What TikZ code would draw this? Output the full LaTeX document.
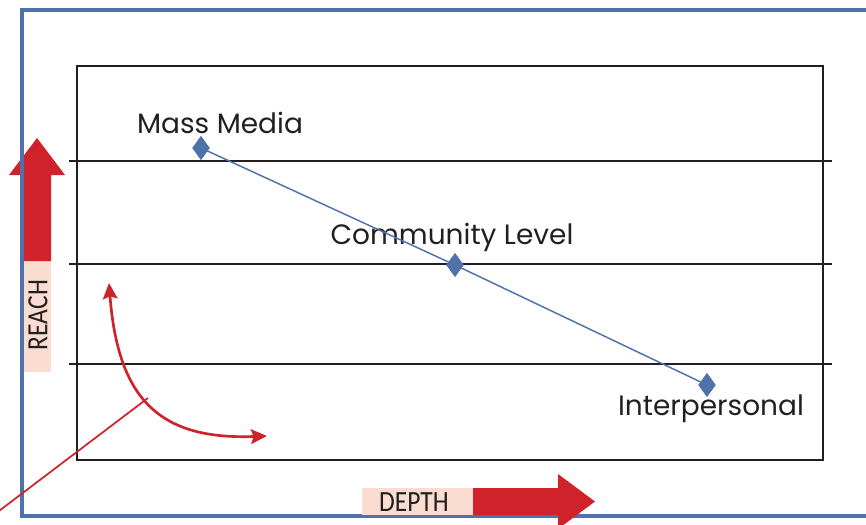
\documentclass[tikz,border=0pt]{standalone}
\usepackage{fontspec}
\setmainfont{Poppins}
\newfontfamily\axisfont[FakeStretch=0.87]{Carlito}
\usetikzlibrary{shapes.geometric,arrows.meta}
\definecolor{frameblue}{RGB}{79,114,170}
\definecolor{arrowred}{RGB}{208,34,42}
\definecolor{labelpink}{RGB}{250,221,208}
\definecolor{gridblack}{RGB}{35,31,32}
\begin{document}
\begin{tikzpicture}[x=0.75pt,y=-0.75pt,
  gridline/.style={draw=gridblack,line width=1.6pt},
  marker/.style={diamond,fill=frameblue,draw=none,inner sep=0pt,minimum width=13pt,minimum height=18pt},
  lbl/.style={font=\fontsize{21}{21}\selectfont,text=gridblack,anchor=base,inner sep=0pt},
  axislbl/.style={font=\axisfont\fontsize{22}{22}\selectfont,text=gridblack,inner sep=0pt},
  pinkbox/.style={fill=labelpink,draw=none},
  redshape/.style={fill=arrowred,draw=none},
  curvearrow/.style={draw=arrowred,line width=2pt,{Stealth[length=12pt,width=11pt,inset=2pt]}-{Stealth[length=12pt,width=11pt,inset=2pt]}},
  pointer/.style={draw=arrowred,line width=1.3pt},
  connector/.style={draw=frameblue,line width=1.1pt}]
\useasboundingbox (0,0) rectangle (866,524);
\clip (0,0) rectangle (866,524);
% REACH arrow
\fill[pinkbox] (23,261) rectangle (51,372);
\fill[redshape] (23,261) -- (23,175) -- (9,175) -- (37,138) -- (65,175) -- (51,175) -- (51,261) -- cycle;
\node[axislbl,rotate=90] (reach) at (38,315) {REACH};
% blue frame
\draw[frameblue,line width=2.4pt] (870,10) -- (22,10) -- (22,516) -- (870,516);
% DEPTH arrow
\fill[pinkbox] (362,488) rectangle (473,515);
\fill[redshape] (473,488) -- (558,488) -- (558,474) -- (595,501.5) -- (558,529) -- (558,515) -- (473,515) -- cycle;
\node[axislbl] (depth) at (414,502) {DEPTH};
% inner rectangle and grid lines
\draw[gridline] (77,66) rectangle (823,460);
\draw[gridline] (69,161) -- (832,161);
\draw[gridline] (69,264) -- (832,264);
\draw[gridline] (69,364) -- (832,364);
% labels
\node[lbl] (massLbl) at (220,133) {Mass Media};
\node[lbl] (commLbl) at (452,244) {Community Level};
\node[lbl] (interLbl) at (711,415) {Interpersonal};
% markers and connector
\node[marker] (mass) at (201,148) {};
\node[marker] (comm) at (455,265) {};
\node[marker] (inter) at (707,385) {};
\draw[connector] (mass.center) -- (comm.center) -- (inter.center);
\node[marker] at (201,148) {};
\node[marker] at (455,265) {};
\node[marker] at (707,385) {};
% curved arrow and pointer
\coordinate (ctop) at (109,283);
\coordinate (cend) at (267,436);
\coordinate (cmid) at (148,398);
\coordinate (pend) at (-5,514);
\draw[curvearrow] (ctop) .. controls (118,400) and (160,440) .. (cend);
\draw[pointer] (cmid) -- (pend);
\end{tikzpicture}
\end{document}
